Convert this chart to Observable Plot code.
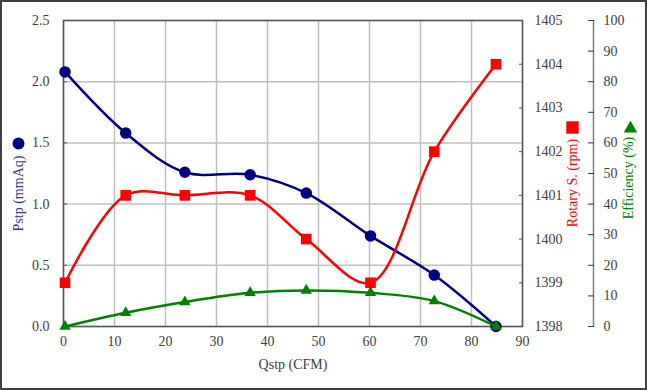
<!DOCTYPE html>
<html><head><meta charset="utf-8">
<script src="https://cdn.jsdelivr.net/npm/d3@7"></script>
<script src="https://cdn.jsdelivr.net/npm/@observablehq/plot@0.6"></script>
<style>
html,body{margin:0;padding:0;background:#fff;}
#chart{position:relative;width:647px;height:390px;}
#chart svg, #chart svg text{font-family:"Liberation Serif","Times New Roman",serif !important;}
#border{position:absolute;left:0;top:0;width:647px;height:390px;box-sizing:border-box;border:2px solid #404040;pointer-events:none;}
</style>
</head><body><div id="chart"><div id="border"></div></div>
<script>
// Data
const qstp = [0.3, 12.2, 23.8, 36.6, 47.6, 60.2, 72.7, 84.8];
const pstp = [2.08, 1.58, 1.26, 1.24, 1.09, 0.74, 0.42, 0.0];
const rpm = [1399, 1401, 1401, 1401, 1400, 1399, 1402, 1404];
const efficiency = [0, 4.5, 8, 11, 11.8, 11, 8.3, 0];

// Tick labels
const xTicks = [0, 10, 20, 30, 40, 50, 60, 70, 80, 90];
const pTicks = [0, 0.5, 1.0, 1.5, 2.0, 2.5];
const rpmTicks = [1398, 1399, 1400, 1401, 1402, 1403, 1404, 1405];
const effTicks = [0, 10, 20, 30, 40, 50, 60, 70, 80, 90, 100];

// Secondary axes mapped onto the primary (Pstp) scale
const pMax = 2.5, rpmMin = 1398, rpmMax = 1405, effMax = 100;
const rpmToP = r => (r - rpmMin) / (rpmMax - rpmMin) * pMax;
const effToP = e => e / effMax * pMax;
const pToRpm = p => rpmMin + p / pMax * (rpmMax - rpmMin);
const pToEff = p => p / pMax * effMax;

const pData = qstp.map((q, i) => ({q, v: pstp[i]}));
const rData = qstp.map((q, i) => ({q, v: rpmToP(rpm[i])}));
const eData = qstp.map((q, i) => ({q, v: effToP(efficiency[i])}));

const NAVY = "#000080", RED = "#ff0000", GREEN = "#008000";
const FONT = "'Liberation Serif', 'Times New Roman', serif";
const TXT = "#404040";

const chart = Plot.plot({
  width: 647,
  height: 390,
  marginLeft: 63,
  marginRight: 125,
  marginTop: 20,
  marginBottom: 64,
  style: {fontFamily: FONT, fontSize: "14px", background: "transparent", overflow: "visible"},
  x: {domain: [0, 90]},
  y: {domain: [0, 2.5]},
  marks: [
    Plot.gridX(xTicks, {stroke: "#c0c0c0", strokeOpacity: 1, strokeWidth: 1.5}),
    Plot.gridY(pTicks, {stroke: "#c0c0c0", strokeOpacity: 1, strokeWidth: 1.5}),
    Plot.frame({stroke: "#555", strokeWidth: 1.5}),
    Plot.axisX(xTicks, {tickSize: 0, tickPadding: 10, fill: TXT, fontSize: 14, fontFamily: FONT, label: null}),
    Plot.axisY(pTicks, {anchor: "left", tickSize: -4, tickPadding: 18, tickFormat: d3.format(".1f"), fill: TXT, stroke: "#555", fontSize: 14, fontFamily: FONT, label: null}),
    Plot.axisY(rpmTicks.map(rpmToP), {anchor: "right", tickSize: -4, tickPadding: 16, tickFormat: p => String(Math.round(pToRpm(p))), fill: TXT, stroke: "#555", fontSize: 14, fontFamily: FONT, label: null}),
    Plot.ruleX([90], {dx: 71, stroke: "#808080", strokeWidth: 1.5}),
    Plot.axisY(effTicks.map(effToP), {anchor: "right", dx: 71, tickSize: -6, tickPadding: 16, tickFormat: p => String(Math.round(pToEff(p))), fill: TXT, stroke: "#333", fontSize: 14, fontFamily: FONT, label: null}),
    // series
    Plot.line(pData, {x: "q", y: "v", curve: "catmull-rom", stroke: NAVY, strokeWidth: 2.5}),
    Plot.dot(pData, {x: "q", y: "v", r: 5, fill: NAVY, stroke: NAVY}),
    Plot.line(rData, {x: "q", y: "v", curve: "catmull-rom", stroke: RED, strokeWidth: 2.5}),
    Plot.dot(rData, {x: "q", y: "v", symbol: "square", r: 6, fill: RED}),
    Plot.line(eData, {x: "q", y: "v", curve: "catmull-rom", stroke: GREEN, strokeWidth: 2.5}),
    Plot.dot(eData, {x: "q", y: "v", symbol: "triangle", r: 4.2, fill: GREEN}),
    // axis titles
    Plot.text(["Qstp (CFM)"], {frameAnchor: "bottom", dy: 42, textAnchor: "middle", fill: TXT, fontSize: 14, fontFamily: FONT}),
    Plot.text(["Pstp (mmAq)"], {frameAnchor: "left", dx: -45, dy: 20, rotate: -90, textAnchor: "middle", fill: "#333399", fontSize: 14, fontFamily: FONT}),
    Plot.dot([0], {frameAnchor: "left", dx: -45, dy: -30, r: 6, fill: NAVY}),
    Plot.text(["Rotary S. (rpm)"], {frameAnchor: "right", dx: 50, dy: 9.5, rotate: -90, textAnchor: "middle", fill: RED, fontSize: 14, fontFamily: FONT}),
    Plot.dot([0], {frameAnchor: "right", dx: 50, dy: -46, symbol: "square", r: 7, fill: RED}),
    Plot.text(["Efficiency (%)"], {frameAnchor: "right", dx: 106, dy: 4.5, rotate: -90, textAnchor: "middle", fill: GREEN, fontSize: 14, fontFamily: FONT}),
    Plot.dot([0], {frameAnchor: "right", dx: 108, dy: -45, symbol: "triangle", r: 5, fill: GREEN})
  ]
});
document.getElementById("chart").prepend(chart);
</script>
</body></html>
